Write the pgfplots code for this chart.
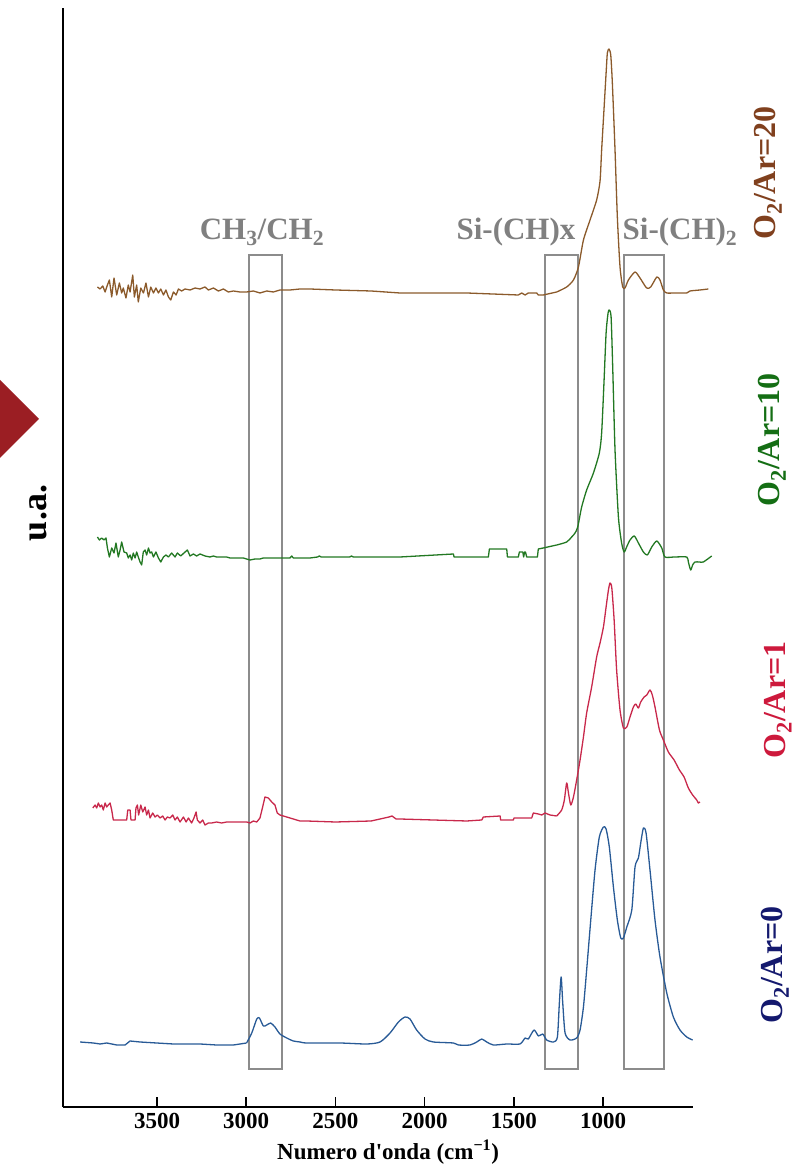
\documentclass[border=0pt]{standalone}
\usepackage{fontspec}
\setmainfont{Liberation Serif}
\newfontfamily\plainserif[Ligatures=TeXOff]{Liberation Serif}
\usepackage{pgfplots}
\pgfplotsset{compat=1.18}
\definecolor{cbrown}{RGB}{139,90,43}
\definecolor{lbrown}{RGB}{128,64,30}
\definecolor{cgreen}{RGB}{34,120,34}
\definecolor{lgreen}{RGB}{20,110,20}
\definecolor{cred}{RGB}{200,40,75}
\definecolor{lred}{RGB}{205,25,60}
\definecolor{cblue}{RGB}{40,90,150}
\definecolor{lblue}{RGB}{20,25,110}
\definecolor{bgray}{RGB}{140,140,140}
\definecolor{tgray}{RGB}{128,128,128}
\definecolor{tri}{RGB}{155,30,35}
\begin{document}
\begin{tikzpicture}
\path[use as bounding box] (0,0) rectangle (795pt,1168pt);
\fill[tri] (0pt,788pt) -- (39pt,749pt) -- (0pt,710pt) -- cycle;
\begin{axis}[
  at={(63pt,61pt)}, anchor=south west,
  scale only axis, width=630pt, height=1099pt,
  x dir=reverse, xmin=496, xmax=4027, ymin=0, ymax=1099,
  clip=false,
  axis x line*=bottom, axis y line*=left,
  axis line style={line width=2pt,-},
  xtick={1000,1500,2000,2500,3000,3500}, ytick=\empty,
  tick align=inside, major tick length=10pt,
  every tick/.style={black,line width=1.5pt},
  /pgf/number format/assume math mode=true,
  /pgf/number format/1000 sep={},
  xticklabel style={font=\fontsize{23}{27}\selectfont\bfseries, yshift=-3pt},
  xlabel={\plainserif Numero d'onda (cm\textsuperscript{−1})},
  xlabel style={at={(axis description cs:0.516,-0.041)}, anchor=center, font=\fontsize{23}{27}\selectfont\bfseries},
  every axis plot/.append style={line width=1.3pt, line join=round},
]
% rectangles
\draw[bgray, line width=1.3pt] (axis cs:2984,38) rectangle (axis cs:2799,852);
\draw[bgray, line width=1.3pt] (axis cs:1325,38) rectangle (axis cs:1140,852);
\draw[bgray, line width=1.3pt] (axis cs:882,38) rectangle (axis cs:658,852);
% O2/Ar=20
\addplot[cbrown] coordinates {
(3834,820)(3819,818)(3804,821)(3791,815)(3778,822)(3767,827)(3754,810)(3741,829)(3726,812)(3711,824)(3698,814)(3689,819)(3674,809)(3661,822)(3651,815)(3636,832)(3627,810)(3614,822)(3605,805)(3591,819)(3576,814)(3562,824)(3548,810)(3535,820)(3520,814)(3506,819)(3492,814)(3479,818)(3464,812)(3450,817)(3436,810)(3423,807)(3408,815)(3393,812)(3380,818)(3362,816)(3343,818)(3315,817)(3287,819)(3259,818)(3231,820)(3212,817)(3184,819)(3156,816)(3128,818)(3100,815)(3072,816)(3035,815)(2998,815)(2960,816)(2923,814)(2885,816)(2848,815)(2811,817)(2755,817)(2699,818)(2643,818)(2500,817)(2300,816)(2138,814)(1764,814)(1475,812)(1456,814)(1437,812)(1419,814)(1372,814)(1363,812)(1335,812)(1260,815)
};
\addplot[cbrown, smooth, tension=0.4] coordinates {
(1260,815)(1204,820)(1166,827)(1138,840)(1110,867)(1073,887)(1036,907)(1017,926)(1008,957)(995,997)(983,1034)(976,1054)(967,1058)(957,1052)(948,1024)(933,957)(920,890)(905,840)(890,820)(877,819)(858,827)(821,835)(793,829)(756,819)(733,820)(699,830)(681,827)(662,817)(643,814)(600,814)(531,814)(513,816)(457,817)(410,818)
};
% O2/Ar=10
\addplot[cgreen] coordinates {
(3834,570)(3823,567)(3810,569)(3797,567)(3786,569)(3778,559)(3767,550)(3754,559)(3741,554)(3730,564)(3717,550)(3707,557)(3698,565)(3685,555)(3670,554)(3661,549)(3651,552)(3642,547)(3633,554)(3623,549)(3614,555)(3605,550)(3595,545)(3586,542)(3577,555)(3567,557)(3558,552)(3548,559)(3539,554)(3530,555)(3520,550)(3506,555)(3492,549)(3479,545)(3464,550)(3450,552)(3436,550)(3418,554)(3399,550)(3386,554)(3367,551)(3349,554)(3330,557)(3315,551)(3296,553)(3278,551)(3259,553)(3231,551)(3203,550)(3184,551)(3166,550)(3138,550)(3110,550)(3091,549)(3053,549)(3016,549)(2998,548)(2979,547)(2951,548)(2923,548)(2904,549)(2829,549)(2755,549)(2745,551)(2736,549)(2643,549)(2600,550)(2590,551)(2580,550)(2420,550)(2410,551)(2400,550)(2138,550)(1839,553)(1835,550)(1643,550)(1637,558)(1540,558)(1536,550)(1475,550)(1469,555)(1450,555)(1445,550)(1440,555)(1435,555)(1428,550)(1368,550)(1363,558)(1335,559)(1260,562)
};
\addplot[cgreen, smooth, tension=0.4] coordinates {
(1260,562)(1204,565)(1176,570)(1157,574)(1142,580)(1120,600)(1092,617)(1054,634)(1021,654)(1008,674)(995,724)(983,774)(972,794)(965,797)(955,790)(946,740)(933,657)(914,590)(896,564)(882,555)(868,560)(849,567)(825,571)(802,564)(774,555)(752,552)(727,560)(699,566)(671,559)(653,550)(600,550)(531,550)(522,545)(509,537)(498,542)(485,545)(460,545)(438,545)(391,551)
};
% O2/Ar=1
\addplot[cred] coordinates {
(3860,299)(3847,302)(3838,299)(3829,304)(3819,300)(3810,302)(3801,297)(3791,304)(3782,300)(3773,302)(3763,304)(3754,297)(3745,287)(3670,287)(3664,297)(3651,297)(3646,287)(3623,287)(3618,299)(3610,302)(3603,292)(3591,302)(3580,295)(3567,300)(3558,292)(3548,297)(3539,289)(3524,294)(3511,290)(3498,292)(3483,289)(3468,291)(3455,287)(3442,290)(3427,289)(3412,292)(3399,287)(3386,290)(3371,285)(3352,290)(3337,285)(3324,289)(3306,284)(3293,289)(3281,295)(3274,287)(3259,284)(3244,287)(3231,282)(3212,284)(3194,284)(3166,285)(3138,284)(3110,285)(3072,285)(3035,285)(2997,285)(2979,284)(2960,286)(2941,285)(2923,289)(2908,300)(2895,310)(2876,309)(2857,305)(2839,302)(2826,294)(2811,292)(2773,290)(2736,288)(2699,286)(2661,286)(2500,285)(2300,286)(2200,290)(2183,291)(2160,288)(2138,288)(1764,286)(1680,287)(1671,290)(1577,291)(1574,287)(1503,287)(1499,289)(1465,289)(1400,289)(1391,294)(1363,293)(1344,292)(1325,294)(1297,292)(1260,291)
};
\addplot[cred, smooth, tension=0.4] coordinates {
(1260,291)(1232,297)(1217,307)(1204,324)(1194,314)(1181,302)(1166,310)(1148,327)(1129,347)(1110,370)(1092,394)(1064,420)(1036,450)(1017,464)(998,480)(983,500)(970,517)(961,524)(951,519)(938,487)(924,437)(905,397)(886,379)(867,380)(849,390)(830,400)(817,403)(802,399)(789,405)(770,410)(755,412)(737,417)(724,412)(709,400)(684,377)(662,367)(634,355)(602,347)(572,337)(546,330)(522,319)(498,312)(475,307)(466,304)(457,305)
};
% O2/Ar=0
\addplot[cblue] coordinates {
(3931,65)(3857,64)(3819,63)(3782,64)(3726,62)(3679,62)(3651,66)(3595,65)(3502,64)(3408,63)(3259,63)(3166,62)(3072,62)(2998,64)
};
\addplot[cblue, smooth, tension=0.4] coordinates {
(2998,64)(2969,74)(2941,88)(2926,89)(2904,81)(2885,82)(2863,84)(2839,80)(2811,73)(2773,69)(2736,66)(2698,65)(2661,64)(2474,64)(2325,63)(2250,65)(2194,74)(2147,85)(2110,90)(2082,88)(2045,77)(1998,68)(1951,65)(1839,64)(1811,62)(1746,62)(1708,65)(1680,68)(1652,65)(1615,62)(1540,63)(1466,63)(1437,69)(1419,68)(1387,77)(1362,71)(1338,73)(1316,67)(1278,65)(1256,70)(1245,104)(1235,130)(1226,104)(1213,74)(1185,67)(1148,69)(1129,77)(1110,100)(1092,137)(1069,187)(1045,237)(1021,270)(998,280)(983,278)(965,260)(942,220)(920,187)(901,169)(886,169)(867,180)(839,197)(821,240)(802,249)(789,264)(774,279)(759,274)(737,237)(709,187)(681,150)(643,114)(606,90)(569,77)(531,70)(498,67)
};
\end{axis}
\node[rotate=90, font=\fontsize{36}{40}\selectfont\bfseries] at (38pt,655pt) {u.a.};
\node[text=tgray, font=\fontsize{31}{36}\selectfont\bfseries] at (262pt,936pt) {CH\textsubscript{3}/CH\textsubscript{2}};
\node[text=tgray, font=\fontsize{31}{36}\selectfont\bfseries] at (516pt,936pt) {Si-(CH)x};
\node[text=tgray, font=\fontsize{31}{36}\selectfont\bfseries] at (680pt,936pt) {Si-(CH)\textsubscript{2}};
\node[rotate=90, text=lbrown, font=\fontsize{32}{36}\selectfont\bfseries] at (768pt,995pt) {O\textsubscript{2}/Ar=20};
\node[rotate=90, text=lgreen, font=\fontsize{32}{36}\selectfont\bfseries] at (772pt,728pt) {O\textsubscript{2}/Ar=10};
\node[rotate=90, text=lred, font=\fontsize{32}{36}\selectfont\bfseries] at (778pt,468pt) {O\textsubscript{2}/Ar=1};
\node[rotate=90, text=lblue, font=\fontsize{32}{36}\selectfont\bfseries] at (775pt,203pt) {O\textsubscript{2}/Ar=0};
\end{tikzpicture}
\end{document}
